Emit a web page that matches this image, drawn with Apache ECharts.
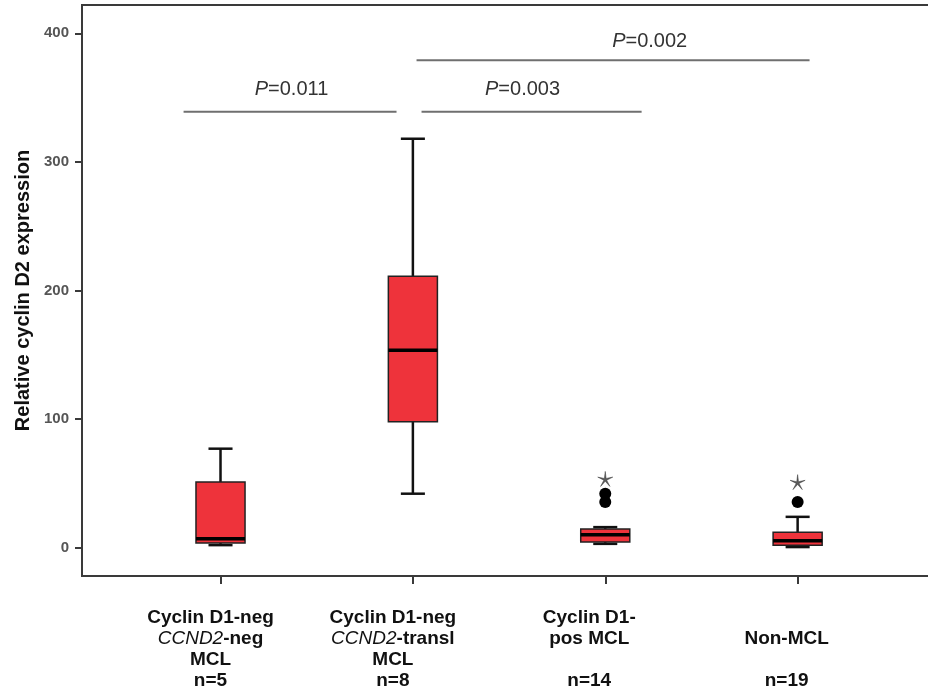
<!DOCTYPE html>
<html>
<head>
<meta charset="utf-8">
<script src="https://cdn.jsdelivr.net/npm/echarts@6/dist/echarts.min.js"></script>
<style>
  html, body { margin: 0; padding: 0; background: #fff; }
  #chart { width: 928px; height: 697px; }
</style>
</head>
<body>
<div id="chart"></div>
<script>
// groups sit at x = 1..4 on a value axis (the plot frame runs off to the right)
const groupPos = [1, 2, 3, 4];
const xLabelLines = [
  ['Cyclin D1-neg', '{it|CCND2}-neg', 'MCL'],
  ['Cyclin D1-neg', '{it|CCND2}-transl', 'MCL'],
  ['Cyclin D1-', 'pos MCL', ''],
  ['', 'Non-MCL', '']
];
const groupN = [5, 8, 14, 19];

// box statistics
const boxMin = [2, 42, 3, 0.5];
const boxQ1 = [3.6, 98, 4.4, 2];
const boxMedian = [7, 153.5, 10, 5.4];
const boxQ3 = [51, 211, 14.5, 12];
const boxMax = [77, 318, 16, 24];

// outliers (circles) and extremes (stars)
const outlierX = [3, 3, 4];
const outlierY = [42, 35.5, 35.5];
const extremeX = [3, 4];
const extremeY = [53.5, 51];

// significance brackets
const pLabels = ['{i|P}=0.011', '{i|P}=0.003', '{i|P}=0.002'];
const pFrom = [0.808, 2.045, 2.019];
const pTo = [1.915, 3.189, 4.062];
const pLineY = [339, 339, 379];
const pTextX = [1.369, 2.570, 3.231];
const pTextY = [356, 356, 394];

const yTicks = [0, 100, 200, 300, 400];

const FONT = 'Arial, "Liberation Sans", Helvetica, sans-serif';
const BOX_FILL = '#ee333b';
const BOX_WIDTH = 0.255;
const CAP_WIDTH = 0.125;
const labelShift = [20, 40, 32, 22];

const chart = echarts.init(document.getElementById('chart'));

const boxData = groupPos.map((x, i) => [x, boxMin[i], boxQ1[i], boxMedian[i], boxQ3[i], boxMax[i]]);
const outlierData = outlierX.map((x, i) => [x, outlierY[i]]);
const extremeData = extremeX.map((x, i) => [x, extremeY[i]]);
const bracketData = pFrom.map((x, i) => [x, pTo[i], pLineY[i], pTextX[i], pTextY[i]]);

const spacerRich = {};
labelShift.forEach((w, i) => { spacerRich['s' + i] = { width: w }; });

// thin five-armed asterisk
const starPath = 'path://M10 0 L11.1 8.5 L19.5 6.9 L11.8 10.6 L15.9 18.1 L10 11.9 L4.1 18.1 L8.2 10.6 L0.5 6.9 L8.9 8.5 Z';

const option = {
  backgroundColor: '#fff',
  animation: false,
  grid: {
    left: 82,
    top: 5,
    bottom: 121,
    right: -62,
    show: true,
    borderColor: '#3a3a3a',
    borderWidth: 2,
    outerBoundsMode: 'none',
    containLabel: false
  },
  xAxis: {
    type: 'value',
    min: 0.28,
    max: 5,
    splitLine: { show: false },
    axisLine: { show: true, onZero: false, lineStyle: { color: '#3a3a3a', width: 2 } },
    axisTick: { show: true, length: 8, customValues: groupPos, lineStyle: { color: '#3a3a3a', width: 2 } },
    axisLabel: {
      customValues: groupPos,
      margin: 31,
      color: '#111',
      fontFamily: FONT,
      fontWeight: 'bold',
      fontSize: 19,
      lineHeight: 21,
      formatter: function (value) {
        const i = groupPos.indexOf(value);
        if (i < 0) return '';
        const lines = xLabelLines[i].concat(['n=' + groupN[i]]);
        return lines.map(l => l + '{s' + i + '| }').join('\n');
      },
      rich: Object.assign({
        it: { fontStyle: 'italic', fontWeight: 'normal', fontSize: 19, lineHeight: 21, color: '#111', fontFamily: FONT }
      }, spacerRich)
    }
  },
  yAxis: {
    type: 'value',
    min: -22,
    max: 422,
    name: 'Relative cyclin D2 expression',
    nameLocation: 'middle',
    nameGap: 48,
    nameTextStyle: { color: '#111', fontFamily: FONT, fontWeight: 'bold', fontSize: 20 },
    splitLine: { show: false },
    axisLine: { show: true, onZero: false, lineStyle: { color: '#3a3a3a', width: 2 } },
    axisTick: { show: true, length: 7, customValues: yTicks, lineStyle: { color: '#3a3a3a', width: 2 } },
    axisLabel: {
      customValues: yTicks,
      margin: 13,
      color: '#555',
      fontFamily: FONT,
      fontWeight: 'bold',
      fontSize: 15
    }
  },
  series: [
    {
      type: 'custom',
      name: 'boxes',
      data: boxData,
      encode: { x: 0, y: [1, 2, 3, 4, 5] },
      renderItem: function (params, api) {
        const x = api.value(0);
        const lo = api.coord([x, api.value(1)]);
        const q1 = api.coord([x, api.value(2)]);
        const med = api.coord([x, api.value(3)]);
        const q3 = api.coord([x, api.value(4)]);
        const hi = api.coord([x, api.value(5)]);
        const bw = api.size([BOX_WIDTH, 0])[0];
        const cw = api.size([CAP_WIDTH, 0])[0];
        const cx = lo[0];
        const whisker = { stroke: '#111', lineWidth: 2.5 };
        return {
          type: 'group',
          children: [
            { type: 'line', shape: { x1: cx, y1: hi[1], x2: cx, y2: q3[1] }, style: whisker },
            { type: 'line', shape: { x1: cx, y1: q1[1], x2: cx, y2: lo[1] }, style: whisker },
            { type: 'line', shape: { x1: cx - cw / 2, y1: hi[1], x2: cx + cw / 2, y2: hi[1] }, style: whisker },
            { type: 'line', shape: { x1: cx - cw / 2, y1: lo[1], x2: cx + cw / 2, y2: lo[1] }, style: whisker },
            {
              type: 'rect',
              shape: { x: cx - bw / 2, y: q3[1], width: bw, height: q1[1] - q3[1] },
              style: { fill: BOX_FILL, stroke: '#222', lineWidth: 1.5 }
            },
            { type: 'line', shape: { x1: cx - bw / 2, y1: med[1], x2: cx + bw / 2, y2: med[1] }, style: { stroke: '#000', lineWidth: 3.5 } }
          ]
        };
      },
      z: 3
    },
    {
      type: 'scatter',
      name: 'outliers',
      data: outlierData,
      symbol: 'circle',
      symbolSize: 12,
      itemStyle: { color: '#000', opacity: 1 },
      z: 4
    },
    {
      type: 'scatter',
      name: 'extremes',
      data: extremeData,
      symbol: starPath,
      symbolSize: 15,
      itemStyle: { color: '#333', borderColor: '#333', borderWidth: 0.6 },
      z: 4
    },
    {
      type: 'custom',
      name: 'brackets',
      data: bracketData,
      encode: { x: [0, 1, 3], y: [2, 4] },
      renderItem: function (params, api) {
        const a = api.coord([api.value(0), api.value(2)]);
        const b = api.coord([api.value(1), api.value(2)]);
        const t = api.coord([api.value(3), api.value(4)]);
        return {
          type: 'group',
          children: [
            { type: 'line', shape: { x1: a[0], y1: a[1], x2: b[0], y2: b[1] }, style: { stroke: '#6f6f6f', lineWidth: 2 } },
            {
              type: 'text',
              x: t[0],
              y: t[1],
              style: {
                text: pLabels[params.dataIndex],
                fill: '#333',
                fontFamily: FONT,
                fontSize: 20,
                align: 'center',
                verticalAlign: 'middle',
                rich: { i: { fontStyle: 'italic', fontFamily: FONT, fontSize: 20, fill: '#333' } }
              }
            }
          ]
        };
      },
      z: 2
    }
  ]
};

chart.setOption(option);
window.addEventListener('resize', () => chart.resize());
</script>
</body>
</html>
